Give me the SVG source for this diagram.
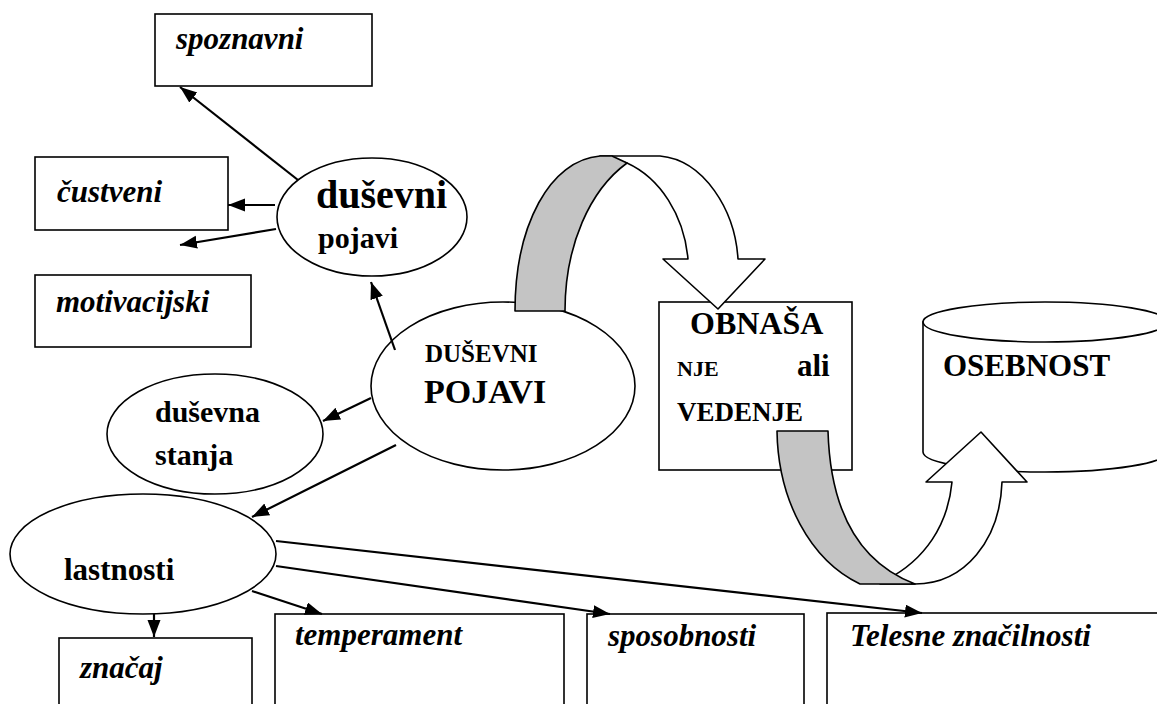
<svg xmlns="http://www.w3.org/2000/svg" width="1157" height="704" viewBox="0 0 1157 704">
  <style>
    .shape { fill: #fff; stroke: #000; stroke-width: 1.6; }
    .ribbon { stroke: #000; stroke-width: 1.6; stroke-linejoin: round; }
    .band { fill: #c4c4c4; }
    .face { fill: #fff; }
    .conn { stroke: #000; stroke-width: 2.2; fill: none; marker-end: url(#arrow); }
    text { fill: #000; font-weight: bold; }
    .bi { font-style: italic; }
  </style>
  <defs>
    <marker id="arrow" markerUnits="userSpaceOnUse" markerWidth="18" markerHeight="14" refX="17" refY="6.5" orient="auto">
      <path d="M0,0 L17,6.5 L0,13 Z" fill="#000"/>
    </marker>
  </defs>

  <rect width="1157" height="704" fill="#fff"/>

  <g font-family="Liberation Serif, DejaVu Serif, serif">
  <!-- mental processes -->
  <g id="spoznavni">
    <rect class="shape" x="155" y="14" width="217" height="72"/>
    <text class="bi" x="176" y="49" font-size="31">spoznavni</text>
  </g>
  <g id="custveni">
    <rect class="shape" x="35" y="157" width="193" height="73"/>
    <text class="bi" x="57" y="202" font-size="31">čustveni</text>
  </g>
  <g id="motivacijski">
    <rect class="shape" x="35" y="275" width="216" height="72"/>
    <text class="bi" x="56" y="312" font-size="31">motivacijski</text>
  </g>
  <g id="dusevni-pojavi">
    <ellipse class="shape" cx="372" cy="217" rx="95" ry="59"/>
    <text x="316" y="208" font-size="40">duševni</text>
    <text x="318" y="248" font-size="30">pojavi</text>
  </g>
  <g id="DUSEVNI-POJAVI">
    <ellipse class="shape" cx="503" cy="386" rx="132" ry="84"/>
    <text x="425" y="362" font-size="25">DUŠEVNI</text>
    <text x="424" y="403" font-size="34">POJAVI</text>
  </g>
  <g id="dusevna-stanja">
    <ellipse class="shape" cx="215" cy="434" rx="108" ry="60"/>
    <text x="155" y="422" font-size="30">duševna</text>
    <text x="155" y="465" font-size="30">stanja</text>
  </g>
  <g id="lastnosti">
    <ellipse class="shape" cx="143" cy="554" rx="133" ry="60"/>
    <text x="64" y="580" font-size="31">lastnosti</text>
  </g>

  <!-- traits -->
  <g id="znacaj">
    <rect class="shape" x="59" y="638" width="193" height="80"/>
    <text class="bi" x="80" y="678" font-size="31">značaj</text>
  </g>
  <g id="temperament">
    <rect class="shape" x="275" y="614" width="289" height="104"/>
    <text class="bi" x="295" y="645" font-size="31">temperament</text>
  </g>
  <g id="sposobnosti">
    <rect class="shape" x="587" y="614" width="217" height="104"/>
    <text class="bi" x="608" y="646" font-size="31">sposobnosti</text>
  </g>
  <g id="telesne">
    <rect class="shape" x="827" y="613" width="340" height="105"/>
    <text class="bi" x="850" y="646" font-size="31">Telesne značilnosti</text>
  </g>

  <!-- behaviour and personality -->
  <g id="obnasanje">
    <rect class="shape" x="659" y="302" width="193" height="168"/>
    <text x="690" y="334" font-size="32">OBNAŠA</text>
    <text x="677" y="376" font-size="22">NJE</text>
    <text x="797" y="376" font-size="31">ali</text>
    <text x="677" y="421" font-size="27">VEDENJE</text>
  </g>
  <g id="osebnost">
    <path class="shape" d="M923,322 L923,452 A122,20 0 0 0 1167,452 L1167,322 Z"/>
    <ellipse class="shape" cx="1045" cy="322" rx="122" ry="20"/>
    <text x="943" y="376" font-size="31">OSEBNOST</text>
  </g>
  </g>

  <!-- curved block arrow: mental processes to behaviour -->
  <g id="arrow-to-behaviour">
    <path class="ribbon face" d="M600,156 L660,156 C704,160 735,210 738,259 L765,259 L718,309 L663,259 L688,259 C684,215 660,178 627,163 Z"/>
    <path class="ribbon band" d="M515,311 C515,225 550,160 600,156 L612,156 L627,163 C590,190 565,245 565,311 Z"/>
  </g>

  <!-- curved block arrow: behaviour to personality -->
  <g id="arrow-to-personality">
    <path class="ribbon face" d="M886,580 C925,560 948,525 952,482 L926,482 L981,432 L1027,482 L1002,482 C1000,540 965,584 915,584 L880,584 Z"/>
    <path class="ribbon band" d="M777,431 L828,431 C830,500 852,560 915,584 L860,584 C810,560 778,500 777,431 Z"/>
  </g>

  <!-- connectors -->
  <g id="connectors">
    <line class="conn" x1="298" y1="180" x2="180" y2="87"/>
    <line class="conn" x1="275" y1="205" x2="228" y2="205"/>
    <line class="conn" x1="276" y1="229" x2="180" y2="245"/>
    <line class="conn" x1="395" y1="350" x2="371" y2="282"/>
    <line class="conn" x1="371" y1="398" x2="323" y2="421"/>
    <line class="conn" x1="396" y1="445" x2="252" y2="517"/>
    <line class="conn" x1="154" y1="614" x2="154" y2="637"/>
    <line class="conn" x1="252" y1="591" x2="322" y2="614"/>
    <line class="conn" x1="276" y1="566" x2="610" y2="614"/>
    <line class="conn" x1="276" y1="541" x2="922" y2="613"/>
  </g>
</svg>
